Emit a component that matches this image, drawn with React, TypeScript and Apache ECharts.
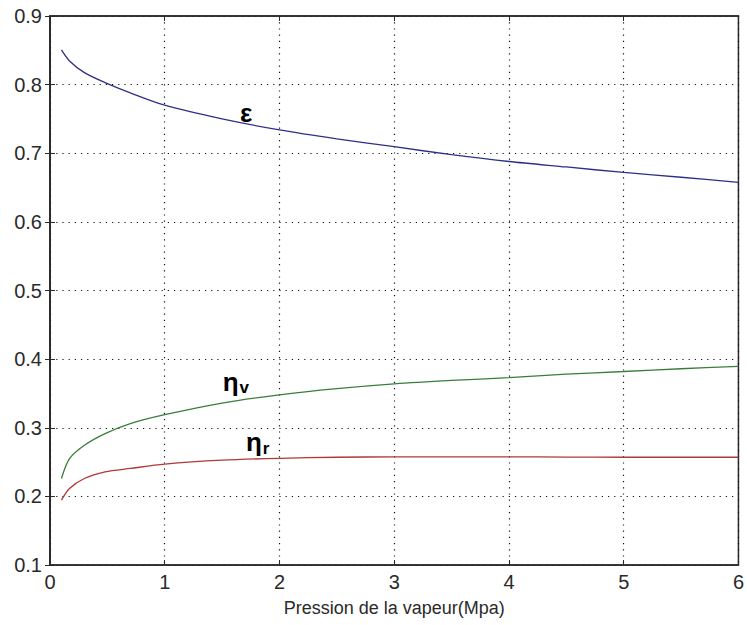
import React, { useEffect, useRef } from "react";
import * as echarts from "echarts";

const pressure = [0.1, 0.17, 0.3, 0.48, 0.7, 1, 1.5, 2, 2.5, 3, 3.5, 4, 4.5, 5, 5.5, 6];
const epsilon = [0.8505, 0.8345, 0.8175, 0.803, 0.788, 0.770, 0.750, 0.734, 0.721, 0.7095, 0.698, 0.688, 0.680, 0.672, 0.665, 0.6575];
const etaV = [0.226, 0.255, 0.2745, 0.2915, 0.306, 0.319, 0.336, 0.348, 0.357, 0.364, 0.369, 0.373, 0.378, 0.382, 0.386, 0.3895];
const etaR = [0.1946, 0.2116, 0.226, 0.2357, 0.2407, 0.247, 0.2527, 0.2555, 0.257, 0.2575, 0.2575, 0.2575, 0.2573, 0.257, 0.257, 0.257];

const xTicks = [0, 1, 2, 3, 4, 5, 6];
const yTicks = [0.1, 0.2, 0.3, 0.4, 0.5, 0.6, 0.7, 0.8, 0.9];
const xLabel = "Pression de la vapeur(Mpa)";

// annotation labels in data coordinates
const curveLabels = [
  { main: "ε", sub: "", x: 1.71, y: 0.759 },
  { main: "η", sub: "v", x: 1.62, y: 0.3667 },
  { main: "η", sub: "r", x: 1.81, y: 0.279 },
];

const font = "'Liberation Sans', Arial, sans-serif";

export default function App() {
  const ref = useRef<HTMLDivElement>(null);
  useEffect(() => {
    if (!ref.current) return;
    const chart = echarts.init(ref.current, null, { renderer: "svg" });
    const mk = (ys: number[]) => pressure.map((x, i) => [x, ys[i]]);
    const grid = { left: 50, top: 16, right: 2, bottom: 60, show: true, borderColor: "#2a2a2a", borderWidth: 1.5, backgroundColor: "#fff" };
    const gridLine = { show: true, lineStyle: { color: "#111", width: 1.2, type: [1.2, 5] } };
    chart.setOption({
      animation: false,
      backgroundColor: "#fff",
      grid,
      xAxis: [
        {
          type: "value", min: xTicks[0], max: xTicks[xTicks.length - 1], interval: 1,
          axisLine: { show: true, lineStyle: { color: "#2a2a2a", width: 1.5 } },
          axisTick: { show: true, inside: true, length: 5, lineStyle: { color: "#2a2a2a" } },
          axisLabel: { color: "#2a2a2a", fontSize: 20, fontFamily: font, margin: 7, formatter: (v: number) => String(v) },
          splitLine: gridLine,
          name: xLabel, nameLocation: "middle", nameGap: 34,
          nameTextStyle: { color: "#2a2a2a", fontSize: 18, fontFamily: font },
        },
        {
          type: "value", position: "top", min: 0, max: 6, interval: 1,
          axisLine: { show: true, lineStyle: { color: "#2a2a2a", width: 1.5 } },
          axisTick: { show: true, inside: true, length: 5, lineStyle: { color: "#2a2a2a" } },
          axisLabel: { show: false }, splitLine: { show: false },
        },
      ],
      yAxis: [
        {
          type: "value", min: yTicks[0], max: yTicks[yTicks.length - 1], interval: 0.1,
          axisLine: { show: true, lineStyle: { color: "#2a2a2a", width: 1.5 } },
          axisTick: { show: true, inside: true, length: 5, lineStyle: { color: "#2a2a2a" } },
          axisLabel: { color: "#2a2a2a", fontSize: 20, fontFamily: font, margin: 8, formatter: (v: number) => v.toFixed(1) },
          splitLine: gridLine,
        },
        {
          type: "value", position: "right", min: 0.1, max: 0.9, interval: 0.1,
          axisLine: { show: true, lineStyle: { color: "#2a2a2a", width: 1.5 } },
          axisTick: { show: true, inside: true, length: 5, lineStyle: { color: "#2a2a2a" } },
          axisLabel: { show: false }, splitLine: { show: false },
        },
      ],
      series: [
        { type: "line", name: "ε", data: mk(epsilon), smooth: 0.3, showSymbol: false, lineStyle: { color: "#2f2f88", width: 1.3 }, itemStyle: { color: "#2f2f88" } },
        { type: "line", name: "ηv", data: mk(etaV), smooth: 0.3, showSymbol: false, lineStyle: { color: "#3a7d3a", width: 1.3 }, itemStyle: { color: "#3a7d3a" } },
        { type: "line", name: "ηr", data: mk(etaR), smooth: 0.3, showSymbol: false, lineStyle: { color: "#b03838", width: 1.3 }, itemStyle: { color: "#b03838" } },
      ],
    });
    const graphics = curveLabels.map((l) => {
      const [px, py] = chart.convertToPixel({ gridIndex: 0 }, [l.x, l.y]) as number[];
      return {
        type: "text",
        x: px,
        y: py,
        style: {
          text: l.sub ? `{m|${l.main}}{s|${l.sub}}` : `{m|${l.main}}`,
          align: "center",
          verticalAlign: "middle",
          rich: {
            m: { fontSize: 26, fontWeight: "bold", fontFamily: font, fill: "#000", lineHeight: 30 },
            s: { fontSize: 17, fontWeight: "bold", fontFamily: font, fill: "#000", padding: [12, 0, 0, 1] },
          },
        },
      };
    });
    chart.setOption({ graphic: graphics });
    return () => chart.dispose();
  }, []);
  return <div ref={ref} style={{ position: "fixed", left: 0, top: 0, width: 747, height: 625 }} />;
}
